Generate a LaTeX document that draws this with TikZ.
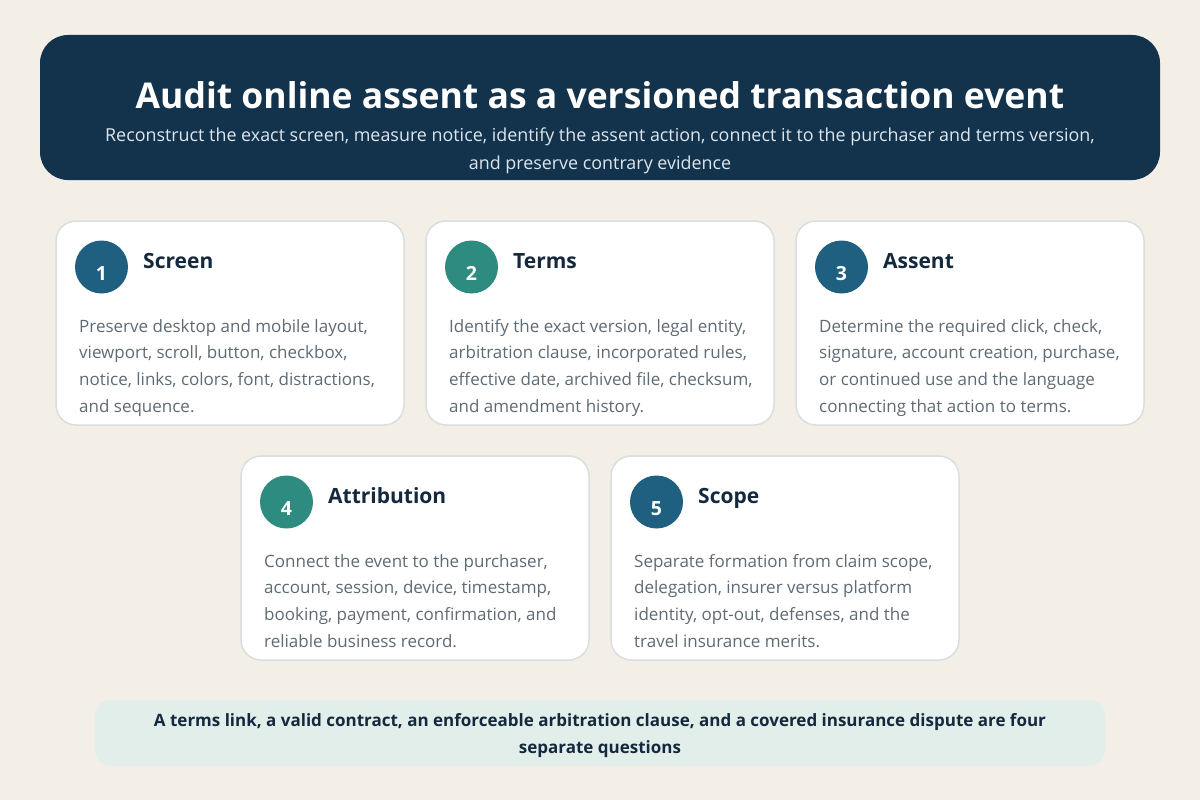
\documentclass[tikz,border=0pt]{standalone}
\usepackage{fontspec}
\setmainfont{Open Sans}
\usetikzlibrary{calc}
\definecolor{bg}{HTML}{F4EFE6}
\definecolor{navy}{HTML}{13324B}
\definecolor{dark}{HTML}{14293D}
\definecolor{bodygray}{HTML}{5F6B74}
\definecolor{cardline}{HTML}{D9DEDF}
\definecolor{blueC}{HTML}{1F5F80}
\definecolor{tealC}{HTML}{2E8B7F}
\definecolor{subtxt}{HTML}{DCE6EE}
\definecolor{footfill}{HTML}{E1EEEA}
\tikzset{
  card/.style={draw=cardline, line width=1.5pt, fill=white, rounded corners=20pt},
  num/.style={circle, minimum size=53pt, inner sep=0pt},
  numtext/.style={anchor=base, inner sep=0pt, text=white, font=\fontsize{19.5}{19.5}\selectfont\bfseries},
  cardtitle/.style={anchor=base west, inner sep=0pt, text=dark, font=\fontsize{21}{21}\selectfont\bfseries},
  bodytext/.style={anchor=north west, inner sep=0pt, text=bodygray, align=left, font=\fontsize{17}{26.7}\selectfont},
}
\newcommand{\cardbox}[6]{%
  \draw[card] (#1,#2) rectangle ++(348,204);
  \node[num, fill=#3] (n#4) at ($(#1,#2)+(45.5,46)$) {};
  \node[numtext] (k#4) at ($(n#4.center)+(0,13.5)$) {#4};
  \node[cardtitle] (t#4) at ($(#1,#2)+(87,47)$) {#5};
  \node[bodytext] (b#4) at ($(#1,#2)+(23,98)$) {#6};
}
\begin{document}
\begin{tikzpicture}[x=1pt,y=-1pt]
\fill[bg] (0,0) rectangle (1200,800);
\useasboundingbox (0,0) rectangle (1200,800);
% header
\fill[navy, rounded corners=28pt] (40,35) rectangle (1160,180);
\node[anchor=base, inner sep=0pt, text=white, font=\fontsize{35.5}{35.5}\selectfont\bfseries] (title) at (600,108) {Audit online assent as a versioned transaction event};
\node[anchor=north, inner sep=0pt, text=subtxt, align=center, font=\fontsize{17.9}{28}\selectfont] (sub) at (600,128) {Reconstruct the exact screen, measure notice, identify the assent action, connect it to the purchaser and terms version,\\and preserve contrary evidence};
% cards
\cardbox{56}{221}{blueC}{1}{Screen}{Preserve desktop and mobile layout,\\viewport, scroll, button, checkbox,\\notice, links, colors, font, distractions,\\and sequence.}
\cardbox{426}{221}{tealC}{2}{Terms}{Identify the exact version, legal entity,\\arbitration clause, incorporated rules,\\effective date, archived file, checksum,\\and amendment history.}
\cardbox{796}{221}{blueC}{3}{Assent}{Determine the required click, check,\\signature, account creation, purchase,\\or continued use and the language\\connecting that action to terms.}
\cardbox{241}{456}{tealC}{4}{Attribution}{Connect the event to the purchaser,\\account, session, device, timestamp,\\booking, payment, confirmation, and\\reliable business record.}
\cardbox{611}{456}{blueC}{5}{Scope}{Separate formation from claim scope,\\delegation, insurer versus platform\\identity, opt-out, defenses, and the\\travel insurance merits.}
% footer
\fill[footfill, rounded corners=16pt] (95,700) rectangle (1105,766);
\node[anchor=north, inner sep=0pt, text=dark, align=center, font=\fontsize{17}{27}\selectfont\bfseries] (foot) at (600,713) {A terms link, a valid contract, an enforceable arbitration clause, and a covered insurance dispute are four\\separate questions};
\end{tikzpicture}
\end{document}
